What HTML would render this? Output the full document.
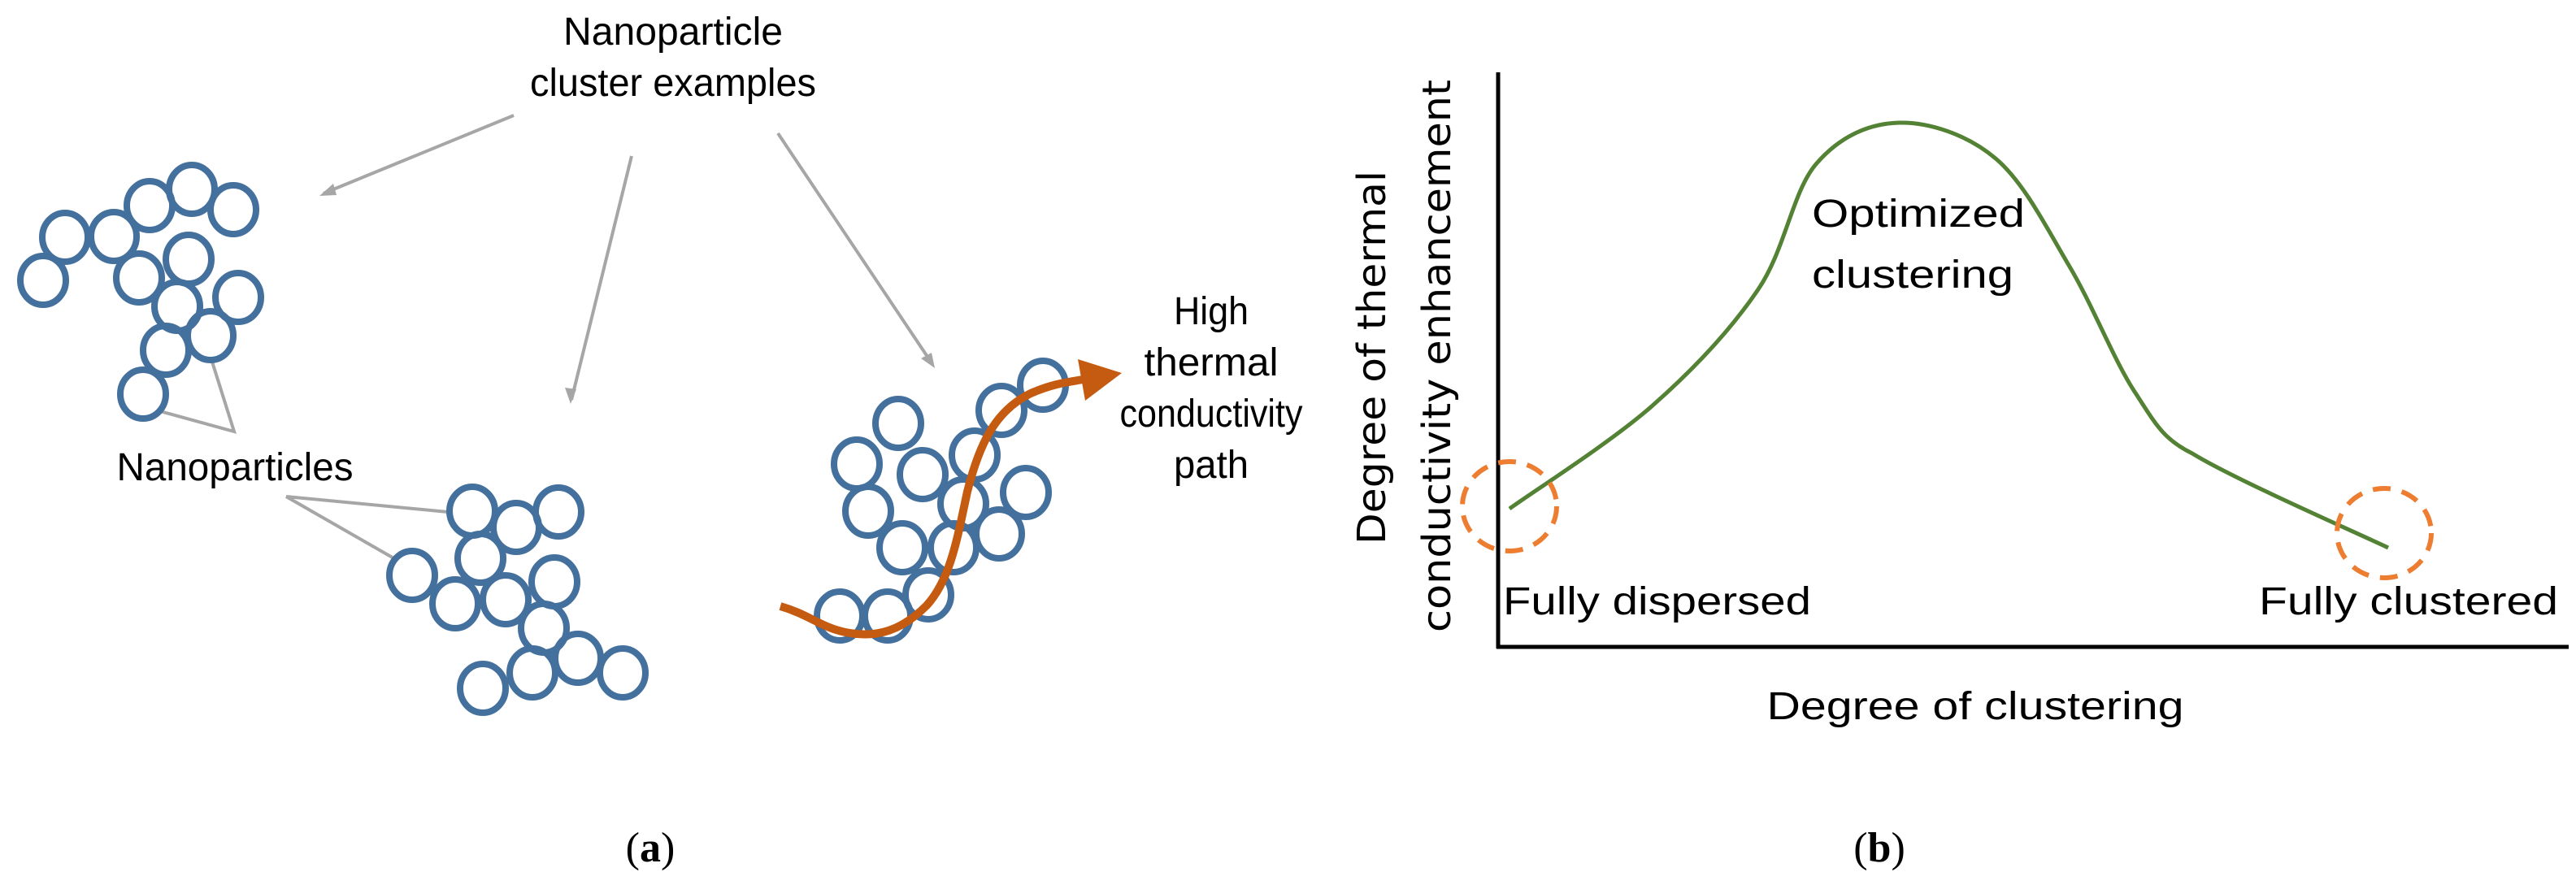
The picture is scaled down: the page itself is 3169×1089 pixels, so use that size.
<!DOCTYPE html>
<html><head><meta charset="utf-8"><style>
html,body{margin:0;padding:0;background:#fff;}
svg{display:block;}
.t{font-family:"Liberation Sans",sans-serif;font-size:48px;fill:#000;}
</style></head><body>
<svg width="3169" height="1089" viewBox="0 0 3169 1089" xmlns="http://www.w3.org/2000/svg">
<text class="t" x="828" y="55" text-anchor="middle" textLength="270" lengthAdjust="spacingAndGlyphs">Nanoparticle</text>
<text class="t" x="828" y="118" text-anchor="middle" textLength="352" lengthAdjust="spacingAndGlyphs">cluster examples</text>
<g stroke="#a6a6a6" stroke-width="4" fill="none">
<line x1="632" y1="142" x2="398" y2="238"/>
<line x1="777" y1="192" x2="703" y2="492"/>
<line x1="957" y1="164" x2="1147" y2="448"/>
</g>
<g fill="#a6a6a6">
<polygon points="393,241 410,226 414,240"/>
<polygon points="702,497 695,477 709,479"/>
<polygon points="1150,453 1133,441 1146,434"/>
</g>
<g stroke="#a6a6a6" stroke-width="4" fill="none">
<polyline points="260,442 288,531 197,506"/>
<line x1="352" y1="611" x2="551" y2="630"/>
<line x1="352" y1="611" x2="488" y2="689"/>
</g>
<text class="t" x="289" y="591" text-anchor="middle" textLength="291" lengthAdjust="spacingAndGlyphs">Nanoparticles</text>
<g fill="none" stroke="#44709d" stroke-width="8">
<ellipse cx="236" cy="233" rx="28" ry="30"/>
<ellipse cx="287" cy="258" rx="28" ry="30"/>
<ellipse cx="184" cy="253" rx="28" ry="30"/>
<ellipse cx="140" cy="291" rx="28" ry="30"/>
<ellipse cx="80" cy="292" rx="28" ry="30"/>
<ellipse cx="53" cy="345" rx="28" ry="30"/>
<ellipse cx="232" cy="319" rx="28" ry="30"/>
<ellipse cx="171" cy="342" rx="28" ry="30"/>
<ellipse cx="218" cy="377" rx="28" ry="30"/>
<ellipse cx="293" cy="366" rx="28" ry="30"/>
<ellipse cx="259" cy="413" rx="28" ry="30"/>
<ellipse cx="204" cy="431" rx="28" ry="30"/>
<ellipse cx="176" cy="485" rx="28" ry="30"/>
<ellipse cx="581" cy="629" rx="28" ry="30"/>
<ellipse cx="635" cy="649" rx="28" ry="30"/>
<ellipse cx="687" cy="630" rx="28" ry="30"/>
<ellipse cx="591" cy="687" rx="28" ry="30"/>
<ellipse cx="507" cy="708" rx="28" ry="30"/>
<ellipse cx="560" cy="743" rx="28" ry="30"/>
<ellipse cx="622" cy="738" rx="28" ry="30"/>
<ellipse cx="682" cy="716" rx="28" ry="30"/>
<ellipse cx="669" cy="773" rx="28" ry="30"/>
<ellipse cx="711" cy="810" rx="28" ry="30"/>
<ellipse cx="766" cy="828" rx="28" ry="30"/>
<ellipse cx="655" cy="828" rx="28" ry="30"/>
<ellipse cx="594" cy="847" rx="28" ry="30"/>
<ellipse cx="1283" cy="474" rx="28" ry="30"/>
<ellipse cx="1232" cy="505" rx="28" ry="30"/>
<ellipse cx="1105" cy="521" rx="28" ry="30"/>
<ellipse cx="1199" cy="560" rx="28" ry="30"/>
<ellipse cx="1054" cy="571" rx="28" ry="30"/>
<ellipse cx="1135" cy="584" rx="28" ry="30"/>
<ellipse cx="1262" cy="606" rx="28" ry="30"/>
<ellipse cx="1185" cy="620" rx="28" ry="30"/>
<ellipse cx="1068" cy="629" rx="28" ry="30"/>
<ellipse cx="1229" cy="657" rx="28" ry="30"/>
<ellipse cx="1110" cy="674" rx="28" ry="30"/>
<ellipse cx="1173" cy="674" rx="28" ry="30"/>
<ellipse cx="1142" cy="732" rx="28" ry="30"/>
<ellipse cx="1033" cy="758" rx="28" ry="30"/>
<ellipse cx="1092" cy="758" rx="28" ry="30"/>
</g>
<path d="M960,746 C995,756 1010,772 1040,778 C1080,786 1110,775 1140,745 C1170,712 1178,660 1190,605 C1205,545 1225,505 1268,484 C1295,472 1315,470 1332,467" fill="none" stroke="#c55a11" stroke-width="10"/>
<polygon points="1380,459 1326,442 1335,493" fill="#c55a11"/>
<text class="t" x="1490" y="399" text-anchor="middle" textLength="92" lengthAdjust="spacingAndGlyphs">High</text>
<text class="t" x="1490" y="462" text-anchor="middle" textLength="165" lengthAdjust="spacingAndGlyphs">thermal</text>
<text class="t" x="1490" y="525" text-anchor="middle" textLength="225" lengthAdjust="spacingAndGlyphs">conductivity</text>
<text class="t" x="1490" y="588" text-anchor="middle" textLength="92" lengthAdjust="spacingAndGlyphs">path</text>
<text x="800" y="1060" text-anchor="middle" font-family="Liberation Serif,serif" font-size="52">(<tspan font-weight="bold">a</tspan>)</text>
<g stroke="#000" stroke-width="5" fill="none">
<line x1="1843" y1="89" x2="1843" y2="798"/>
<line x1="1841" y1="796" x2="3160" y2="796"/>
</g>
<path d="M1857,626 C1886,605 1982,544 2033,499 C2084,454 2129.5,405.5 2163,356 C2196.5,306.5 2205,236 2234,202 C2263,168 2299,152 2336,151 C2373,150 2420,165.5 2455,195 C2490,224.5 2517.5,280 2546,328 C2574.5,376 2601,444 2626,482 C2651,520 2660,540 2697,558 C2749,590 2898,655 2938,674" fill="none" stroke="#548235" stroke-width="5"/>
<g fill="none" stroke="#ed7d31" stroke-width="6" stroke-dasharray="22,14">
<ellipse cx="1857" cy="623" rx="58" ry="55"/>
<ellipse cx="2933" cy="656" rx="58" ry="55"/>
</g>
<text class="t" x="2229" y="279" textLength="262" lengthAdjust="spacingAndGlyphs">Optimized</text>
<text class="t" x="2229" y="354" textLength="248" lengthAdjust="spacingAndGlyphs">clustering</text>
<text class="t" x="1849" y="756" textLength="379" lengthAdjust="spacingAndGlyphs">Fully dispersed</text>
<text class="t" x="2779" y="756" textLength="368" lengthAdjust="spacingAndGlyphs">Fully clustered</text>
<text class="t" x="2430" y="885" text-anchor="middle" textLength="513" lengthAdjust="spacingAndGlyphs">Degree of clustering</text>
<text transform="translate(1704,440) rotate(-90)" text-anchor="middle" font-family="DejaVu Sans,sans-serif" font-size="48" textLength="460" lengthAdjust="spacingAndGlyphs">Degree of thermal</text>
<text transform="translate(1784,438) rotate(-90)" text-anchor="middle" font-family="DejaVu Sans,sans-serif" font-size="48" textLength="680" lengthAdjust="spacingAndGlyphs">conductivity enhancement</text>
<text x="2312" y="1060" text-anchor="middle" font-family="Liberation Serif,serif" font-size="52">(<tspan font-weight="bold">b</tspan>)</text>
</svg>
</body></html>
